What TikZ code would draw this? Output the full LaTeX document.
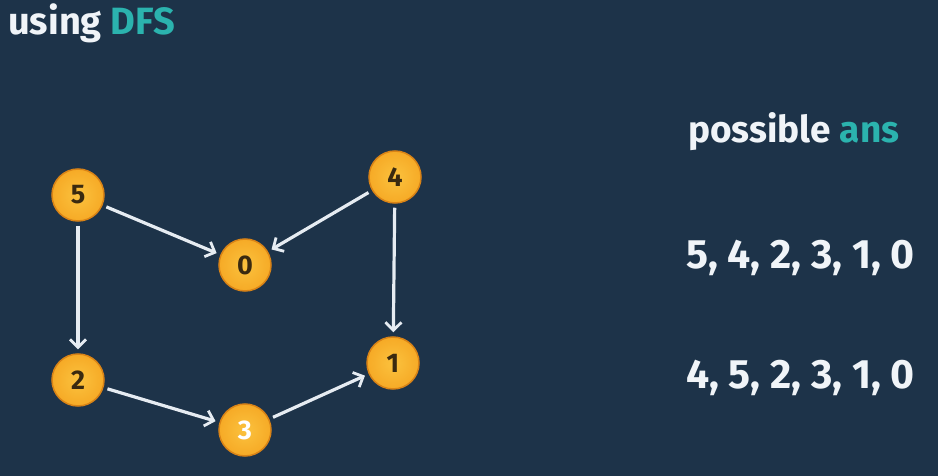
\documentclass[tikz,border=0pt]{standalone}
\usepackage{fontspec}
\setmainfont{Fira Sans}
\usetikzlibrary{arrows.meta,shadings}
\definecolor{bg}{HTML}{1D3349}
\definecolor{txt}{HTML}{F0F4F8}
\definecolor{teal}{HTML}{2BB3AE}
\definecolor{orng}{HTML}{F6AA26}
\definecolor{orngdark}{HTML}{D98316}
\definecolor{orngin}{HTML}{FBC23E}
\definecolor{numc}{HTML}{3A2A10}
\definecolor{arr}{HTML}{E6ECF2}
\tikzset{
  vnode/.style={circle, minimum size=52pt, inner sep=0pt, draw=orngdark, line width=1.5pt,
    inner color=orngin, outer color=orng, text=numc, font=\fontsize{27}{27}\selectfont\bfseries},
  edge/.style={draw=arr, line width=3.2pt, -{Straight Barb[length=8pt,width=16pt,line width=2.8pt]}, shorten <=4pt, shorten >=4pt},
  bigtxt/.style={text=txt, anchor=base west, inner sep=0pt, font=\bfseries}
}
\begin{document}
\begin{tikzpicture}[x=1pt,y=-1pt]
\fill[bg] (0,0) rectangle (938,476);
\useasboundingbox (0,0) rectangle (938,476);
\node[bigtxt, font=\fontsize{38}{38}\selectfont\bfseries] (title) at (8,35) {using \textcolor{teal}{DFS}};
\node[bigtxt, font=\fontsize{37}{37}\selectfont\bfseries] (poss) at (688,143) {possible \textcolor{teal}{ans}};
\node[bigtxt, font=\fontsize{41}{41}\selectfont\bfseries] (ans1) at (686,268) {5, 4, 2, 3, 1, 0};
\node[bigtxt, font=\fontsize{41}{41}\selectfont\bfseries] (ans2) at (686,388) {4, 5, 2, 3, 1, 0};

\node[vnode] (n5) at (78,195) {5};
\node[vnode] (n4) at (395,177) {4};
\node[vnode] (n0) at (245,265) {0};
\node[vnode] (n2) at (78,380) {2};
\node[vnode] (n1) at (393,363) {1};
\node[vnode, text=white] (n3) at (245,430) {3};

\draw[edge] (n5) -- (n0);
\draw[edge] (n4) -- (n0);
\draw[edge] (n5) -- (n2);
\draw[edge] (n4) -- (n1);
\draw[edge] (n2) -- (n3);
\draw[edge] (n3) -- (n1);
\end{tikzpicture}
\end{document}
